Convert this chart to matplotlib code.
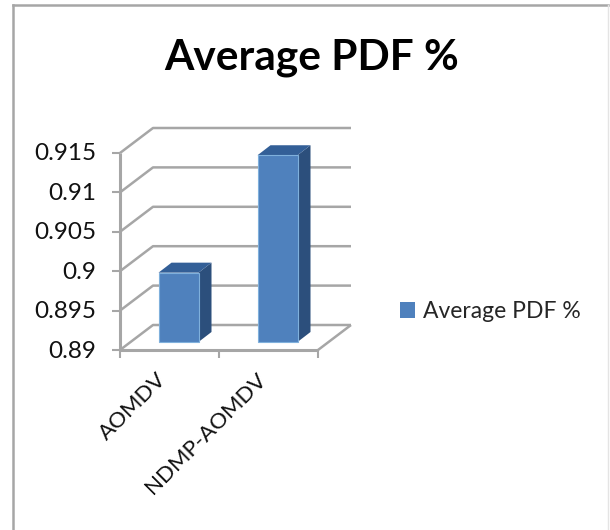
import matplotlib
matplotlib.use("Agg")
from matplotlib import pyplot as plt
from matplotlib.patches import Polygon, Rectangle
from matplotlib.transforms import Affine2D, IdentityTransform

categories = ["AOMDV", "NDMP-AOMDV"]
values = [0.8988, 0.9137]
yticks = [0.89, 0.895, 0.9, 0.905, 0.91, 0.915]
ytick_labels = ["0.89", "0.895", "0.9", "0.905", "0.91", "0.915"]
series_name = "Average PDF %"

W, H = 610, 530
plt.rcParams["font.family"] = ["Lato", "DejaVu Sans"]

fig = plt.figure(figsize=(W / 100, H / 100), dpi=100)

# outer frame, only left, top and a faint right side show in the picture
frame = "#a6a6a6"
fig.add_artist(plt.Line2D([13 / W, 13 / W], [0, (H - 5) / H], color=frame, lw=1.8))
fig.add_artist(plt.Line2D([13 / W, 608 / W], [(H - 5) / H, (H - 5) / H], color=frame, lw=1.8))
fig.add_artist(plt.Line2D([608 / W, 608 / W], [0, (H - 5) / H], color="#e4e4e4", lw=1))

# front plane of the 3d box, in pixels
ax = fig.add_axes([120 / W, (H - 350) / H, 198 / W, 197 / H])
ax.set_xlim(0, 2)
ax.set_ylim(0.89, 0.915)
ax.patch.set_visible(False)
for s in ax.spines.values():
    s.set_visible(False)
ax.set_xticks([])
ax.set_yticks([])

grey = "#a6a6a6"
pixels = IdentityTransform()


def shift(dx, dy):
    # depth is drawn as a pixel offset from the front plane
    return ax.transData + Affine2D().translate(dx, dy)


def pixel_line(points, lw=1.8, z=1):
    xs = [p[0] for p in points]
    ys = [p[1] for p in points]
    ax.plot(xs, ys, color=grey, lw=lw, transform=pixels, clip_on=False, zorder=z, solid_capstyle="butt")


DX, DY = 33, 25
back = shift(DX, DY)
front = ax.transData
for t, label in zip(yticks, ytick_labels):
    p0 = front.transform((0, t))
    pixel_line([p0, back.transform((0, t)), back.transform((2, t))])
    pixel_line([p0 - (8, 0), p0], lw=1.5)
    ax.text(0, t, label, ha="right", va="center", fontsize=17.5, color="#111111", transform=shift(-24, -1))

# y axis and front floor edge
pixel_line([front.transform((0, 0.89)), front.transform((0, 0.915))], lw=2.2, z=2)
pixel_line([front.transform((0, 0.89)), front.transform((2, 0.89))], lw=2.2, z=2)
pixel_line([front.transform((2, 0.89)), back.transform((2, 0.89))])
for i in range(3):
    p = front.transform((i, 0.89))
    pixel_line([p, p - (0, 8)], lw=1.5)

# bars
bar_w = 0.404
for i, v in enumerate(values):
    left = i + 0.5 - bar_w / 2 - 0.005
    right = left + bar_w
    t = shift(9.5, 8)
    ax.add_patch(Rectangle((left, 0.89), bar_w, v - 0.89, fc="#4f81bd", ec="#7fb0dc", lw=0.8, transform=t, zorder=5,
                           clip_on=False))
    base = t.transform((right, 0.89))
    top = t.transform((right, v))
    topl = t.transform((left, v))
    side = [base, base + (13, 10), top + (13, 10), top]
    roof = [topl, top, top + (13, 10), topl + (13, 10)]
    ax.add_patch(Polygon(side, fc="#2c4f7c", ec="none", zorder=4, transform=pixels, clip_on=False))
    ax.add_patch(Polygon(roof, fc="#335f97", ec="none", zorder=4, transform=pixels, clip_on=False))
    ax.text(i + 0.5, 0.89, categories[i], rotation=45, rotation_mode="anchor", ha="right", va="top",
            fontsize=16, color="#111111", transform=shift(-13, -19))

fig.text(312 / W, (H - 58) / H, series_name, ha="center", va="center", fontsize=30.5, fontweight="bold", color="black")

fig.patches.append(Rectangle((400 / W, (H - 318) / H), 15 / W, 16 / H, transform=fig.transFigure,
                             fc="#4f81bd", ec="none", zorder=-1))
fig.text(423 / W, (H - 311) / H, series_name, ha="left", va="center", fontsize=16.5, color="#262626")

fig.savefig("out.png", dpi=100)
